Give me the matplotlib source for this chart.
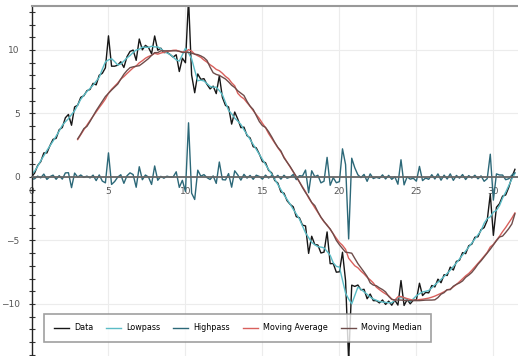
import matplotlib
matplotlib.use("Agg")
import matplotlib.pyplot as plt
from matplotlib.ticker import MultipleLocator
import numpy as np
import pandas as pd

# sample positions (step 0.2) and the noisy signal
x = np.arange(158) * 0.2
data = [
    0.00, 0.30, 0.90, 1.20, 1.89, 1.89, 2.47, 2.96, 3.04, 3.72,
    3.89, 4.66, 4.92, 4.07, 5.51, 5.65, 6.27, 6.39, 6.79, 6.89,
    7.37, 7.25, 8.01, 8.16, 8.59, 11.11, 8.72, 8.72, 8.80, 9.07,
    8.62, 9.46, 9.88, 9.99, 9.18, 10.86, 10.01, 10.36, 10.19, 9.70,
    11.10, 9.98, 10.14, 9.79, 9.82, 9.64, 9.44, 9.62, 8.30, 9.35,
    8.99, 14.02, 8.03, 6.63, 8.11, 7.68, 7.74, 7.29, 6.93, 7.15,
    6.56, 7.97, 6.26, 5.63, 5.51, 4.16, 5.11, 4.55, 3.88, 3.92,
    3.25, 3.07, 2.38, 2.29, 1.80, 1.21, 1.12, 0.52, 0.32, -0.28,
    -0.48, -1.18, -1.28, -1.87, -2.16, -2.35, -3.13, -3.21, -3.79, -3.86,
    -6.02, -4.67, -5.32, -5.36, -5.99, -5.92, -4.33, -6.83, -6.82, -7.50,
    -7.47, -5.93, -8.17, -14.50, -8.52, -8.62, -8.51, -8.89, -8.85, -9.59,
    -9.22, -9.74, -9.74, -9.92, -9.69, -10.04, -9.78, -10.10, -9.70, -10.09,
    -8.16, -10.12, -9.66, -9.99, -9.70, -9.69, -8.37, -9.34, -9.09, -9.13,
    -8.55, -8.66, -8.05, -8.33, -7.70, -7.76, -7.10, -7.33, -6.65, -6.56,
    -5.96, -6.04, -5.42, -5.29, -4.75, -4.71, -4.15, -3.99, -3.42, -1.35,
    -4.60, -2.39, -2.10, -1.51, -1.42, -0.82, -0.02, 0.60,
]
data = np.array(data)

yticks = [-10, -5, 0, 5, 10]
xticks = [0, 5, 10, 15, 20, 25, 30]
labels = ['Data', 'Lowpass', 'Highpass', 'Moving Average', 'Moving Median']

# lowpass: short weighted smoothing, highpass is the rest
kern = np.array([1, 2, 2, 2, 1]) / 8.
lowpass = np.convolve(np.pad(data, 2, mode='edge'), kern, mode='valid')
highpass = data - lowpass
s = pd.Series(data)
mavg = s.rolling(16).mean()
mmed = s.rolling(16).median()

fig = plt.figure(figsize=(5.18, 3.56), dpi=100)
ax = fig.add_axes([31.5/518, 0, 1 - 31.5/518, 1 - 6/356])

ax.plot(x, data, color='#161616', lw=1.0, label=labels[0])
ax.plot(x, lowpass, color='#5bbcc6', lw=1.0, label=labels[1])
ax.plot(x, highpass, color='#2c6878', lw=1.0, label=labels[2])
ax.plot(x, mavg, color='#d9605c', lw=1.0, label=labels[3])
ax.plot(x, mmed, color='#6e4c4a', lw=1.0, label=labels[4])

ax.set_xlim(0, 31.6)
ax.set_ylim(-14.1, 13.46)

ax.spines['bottom'].set_position(('data', 0))
ax.spines['bottom'].set_color('#666666')
ax.spines['bottom'].set_linewidth(1.3)
ax.spines['left'].set_color('#222222')
ax.spines['left'].set_linewidth(1.0)
ax.spines['top'].set_color('#999999')
ax.spines['top'].set_linewidth(1.5)
ax.spines['right'].set_visible(False)

ax.set_yticks(yticks)
ax.yaxis.set_minor_locator(MultipleLocator(1))
ax.set_xticks(xticks)
ax.tick_params(axis='y', which='both', direction='inout', length=5, width=0.8,
               color='#333333', pad=6, labelsize=6.5, labelcolor='#555555')
ax.tick_params(axis='x', which='both', length=0, pad=7, labelsize=6.5,
               labelcolor='#555555')

ax.grid(True, color='#ececec', lw=0.8)
ax.set_axisbelow(True)

leg = ax.legend(loc='lower left', bbox_to_anchor=(0.0257, 0.04), ncol=5,
                fontsize=5.8, frameon=True, fancybox=False, borderaxespad=0,
                handlelength=1.9, handletextpad=0.6, columnspacing=1.6,
                borderpad=1.2)
leg.get_frame().set_edgecolor('#888888')
leg.get_frame().set_linewidth(1.2)

fig.savefig('out.png', dpi=100)
